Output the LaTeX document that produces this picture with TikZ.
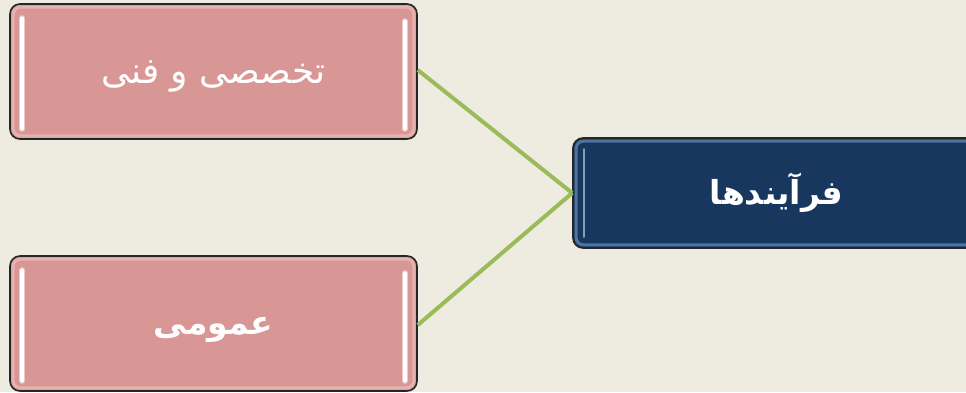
\documentclass[tikz,border=0pt]{standalone}
\usepackage{fontspec}
\newfontfamily\arabicfont[Script=Arabic]{DejaVu Sans}
\TeXXeTstate=1
\definecolor{bgc}{HTML}{EEEBE1}
\definecolor{pinkc}{HTML}{D89694}
\definecolor{pinkrim}{HTML}{E6B2B0}
\definecolor{navyc}{HTML}{17375E}
\definecolor{navyrim}{HTML}{4F74A0}
\definecolor{greenc}{HTML}{9BBB59}
\tikzset{
  pinkbox/.style={draw=black!85, line width=1.6pt, fill=pinkc, rounded corners=10pt,
    minimum width=407pt, minimum height=135pt, inner sep=0pt},
  navybox/.style={draw=black!85, line width=1.6pt, fill=navyc, rounded corners=10pt,
    minimum width=405pt, minimum height=110pt, inner sep=0pt},
  hilite/.style={white, line width=3.5pt, line cap=round},
  lbl/.style={text=white, font=\arabicfont\fontsize{36}{40}\selectfont},
  boldlbl/.style={text=white, font=\arabicfont\bfseries\fontsize{33}{38}\selectfont},
  connector/.style={greenc, line width=4pt}
}
\begin{document}
\begin{tikzpicture}[x=1pt,y=-1pt]
\useasboundingbox[fill=bgc] (0,0) rectangle (966,392);
\node[pinkbox] (spec) at (213.5,71.5) {};
\node[pinkbox] (gen) at (213.5,323.5) {};
\node[navybox] (proc) at (775.5,193) {};
% inner rims
\foreach \n/\c in {spec/pinkrim,gen/pinkrim,proc/navyrim}{
  \draw[\c, line width=3pt, rounded corners=7pt]
    ([xshift=4pt,yshift=-4pt]\n.north west) rectangle ([xshift=-4pt,yshift=4pt]\n.south east);
}
% highlights
\foreach \n in {spec,gen}{
  \draw[pinkrim!70!white, line width=6pt, line cap=round] ([xshift=13pt,yshift=-15pt]\n.north west) -- ([xshift=13pt,yshift=11pt]\n.south west);
  \draw[pinkrim!70!white, line width=6pt, line cap=round] ([xshift=-13pt,yshift=-18pt]\n.north east) -- ([xshift=-13pt,yshift=11pt]\n.south east);
  \draw[hilite] ([xshift=13pt,yshift=-15pt]\n.north west) -- ([xshift=13pt,yshift=11pt]\n.south west);
  \draw[hilite] ([xshift=-13pt,yshift=-18pt]\n.north east) -- ([xshift=-13pt,yshift=11pt]\n.south east);
}
\draw[navyrim!70!white, line width=2.5pt, line cap=round] ([xshift=12pt,yshift=-12pt]proc.north west) -- ([xshift=12pt,yshift=12pt]proc.south west);
\draw[navyrim!70!white, line width=2.5pt, line cap=round] ([xshift=-12pt,yshift=-12pt]proc.north east) -- ([xshift=-12pt,yshift=12pt]proc.south east);
% texts
\node[lbl] (spectext) at ([yshift=-5pt]spec.center) {\beginR تخصصی و فنی\endR};
\node[boldlbl] (gentext) at ([yshift=-6pt]gen.center) {\beginR عمومی\endR};
\node[boldlbl] (proctext) at ([xshift=1pt]proc.center) {\beginR فرآیندها\endR};
% connectors
\draw[connector] ([yshift=1.5pt]spec.east) -- (proc.west);
\draw[connector] ([yshift=-1.5pt]gen.east) -- (proc.west);
\end{tikzpicture}
\end{document}
